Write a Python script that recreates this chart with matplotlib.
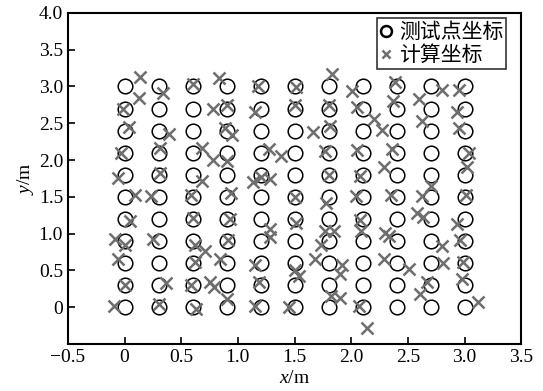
import matplotlib
matplotlib.use("Agg")
import matplotlib.pyplot as plt
import numpy as np
from matplotlib.ticker import FuncFormatter

plt.rcParams['font.family'] = ['Liberation Serif', 'Noto Sans CJK SC', 'DejaVu Sans']
plt.rcParams['mathtext.fontset'] = 'custom'
plt.rcParams['mathtext.it'] = 'Liberation Serif:italic'
plt.rcParams['mathtext.rm'] = 'Liberation Serif'

# 测试点: 11 x 11 grid, 0.3 m spacing
grid_x = [0, 0.3, 0.6, 0.9, 1.2, 1.5, 1.8, 2.1, 2.4, 2.7, 3.0]
grid_y = [0, 0.3, 0.6, 0.9, 1.2, 1.5, 1.8, 2.1, 2.4, 2.7, 3.0]

# 计算坐标
calc_x = [0.14, 0.34, 0.60, 0.83, 1.18, 1.51, 1.83, 2.01, 2.39, 2.80, 2.95,
          0.13, -0.01, 0.78, 0.90, 1.15, 1.50, 1.80, 2.05, 2.37, 2.60, 2.93,
          0.04, 0.39, 0.89, 0.95, 1.66, 1.81, 2.20, 2.27, 2.62, 2.95,
          -0.03, 0.31, 0.68, 1.27, 1.38, 1.77, 2.05, 2.36, 3.04, 0.78, 0.90,
          -0.06, 0.31, 0.68, 1.13, 1.20, 1.28, 1.80, 2.08, 2.29, 3.02,
          0.09, 0.23, 0.59, 0.94, 1.50, 1.78, 2.04, 2.35, 2.62, 2.70, 3.01,
          0.05, 0.60, 0.93, 1.51, 1.28, 2.08, 2.58, 2.63, 2.93,
          -0.08, 0.00, 0.25, 0.62, 0.71, 0.91, 1.28, 1.77, 1.85, 1.73, 2.09, 2.30, 2.33, 2.80, 2.96,
          -0.06, 0.62, 0.84, 1.15, 1.50, 1.54, 1.68, 1.92, 1.90, 2.29, 2.51, 2.81, 2.99,
          0.00, 0.37, 0.59, 0.75, 0.79, 1.19, 2.67, 2.61, 2.98,
          -0.09, 0.30, 0.63, 0.90, 1.15, 1.45, 1.82, 1.90, 2.07, 2.14, 3.12]
calc_y = [3.13, 2.91, 3.03, 3.12, 3.00, 2.99, 3.17, 2.94, 3.06, 2.95, 2.95,
          2.85, 2.69, 2.70, 2.75, 2.66, 2.75, 2.75, 2.72, 2.80, 2.83, 2.66,
          2.45, 2.36, 2.44, 2.34, 2.38, 2.46, 2.56, 2.41, 2.53, 2.44,
          2.10, 2.17, 2.16, 2.15, 2.05, 2.13, 2.14, 2.15, 2.10, 2.00, 1.99,
          1.75, 1.82, 1.71, 1.70, 1.77, 1.74, 1.80, 1.78, 1.90, 1.90,
          1.53, 1.51, 1.52, 1.55, 1.50, 1.42, 1.51, 1.52, 1.51, 1.65, 1.53,
          1.17, 1.21, 1.20, 1.14, 1.07, 1.19, 1.28, 1.22, 1.13,
          0.93, 0.85, 0.93, 0.85, 0.76, 0.92, 0.96, 1.04, 1.04, 0.85, 1.04, 1.01, 0.97, 0.83, 0.92,
          0.65, 0.61, 0.65, 0.57, 0.50, 0.42, 0.65, 0.58, 0.45, 0.65, 0.52, 0.60, 0.61,
          0.30, 0.33, 0.30, 0.34, 0.27, 0.35, 0.34, 0.18, 0.38,
          0.02, 0.05, -0.03, 0.11, 0.02, 0.01, 0.15, 0.13, 0.02, -0.28, 0.07]

gx, gy = np.meshgrid(grid_x, grid_y)

fig = plt.figure(figsize=(5.43, 3.91), dpi=100)
ax = fig.add_axes([0.125, 0.12, 0.835, 0.847])

ax.plot(gx.ravel(), gy.ravel(), 'o', ms=10.5, mfc='none', mec='black', mew=1.1,
        label='测试点坐标')
ax.plot(calc_x, calc_y, 'x', ms=8, mec='#6e6e6e', mew=1.8, label='计算坐标')

ax.set_xlim(-0.5, 3.5)
ax.set_ylim(-0.5, 4.0)
ax.set_xticks(np.arange(-0.5, 3.51, 0.5))
ax.set_yticks(np.arange(0, 4.01, 0.5))


def fmt(v, pos):
    if abs(v) < 1e-9:
        return '0'
    return ('%.1f' % v).replace('-', '\u2212')


ax.xaxis.set_major_formatter(FuncFormatter(fmt))
ax.yaxis.set_major_formatter(FuncFormatter(fmt))
ax.tick_params(direction='in', length=5, width=1.2, labelsize=14, top=False, right=False)
for s in ax.spines.values():
    s.set_linewidth(1.5)

ax.set_xlabel('$\\mathit{x}$/m', fontsize=14, labelpad=3)
ax.set_ylabel('$\\mathit{y}$/m', fontsize=14, labelpad=2)

leg = ax.legend(loc='upper right', bbox_to_anchor=(0.967, 0.985), borderaxespad=0,
                frameon=True, fancybox=False, edgecolor='black',
                handlelength=0.6, handletextpad=0.3, borderpad=0.15,
                labelspacing=0.05, markerscale=0.75,
                prop={'family': ['Noto Sans CJK SC', 'DejaVu Sans'], 'size': 15})
leg.get_frame().set_linewidth(1.2)
leg.legend_handles[0].set_markeredgewidth(1.8)

fig.savefig('out.png', dpi=100)
